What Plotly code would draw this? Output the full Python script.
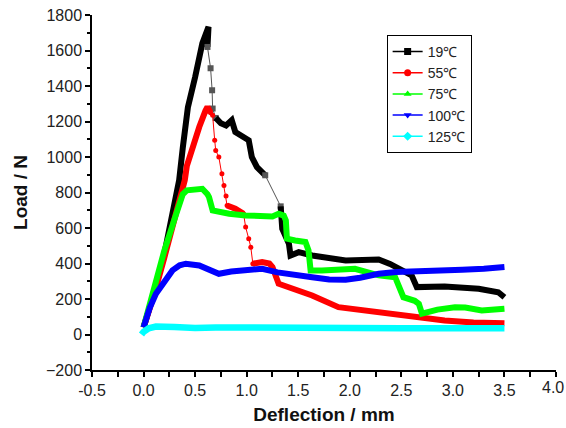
import plotly.graph_objects as go

# ---------------- data ----------------
series_names = ["19℃", "55℃", "75℃", "100℃", "125℃"]

# 19 C (black) - segments: thick / thin
b1_x = [0.0, 0.1, 0.2, 0.28, 0.345, 0.38, 0.40, 0.43, 0.50, 0.57, 0.63, 0.62]
b1_y = [40, 230, 450, 680, 868, 1050, 1180, 1280, 1450, 1640, 1733, 1620]
b2_x = [0.62, 0.65, 0.665, 0.67, 0.70]
b2_y = [1620, 1500, 1376, 1273, 1220]
b3_x = [0.70, 0.75, 0.80, 0.855, 0.89, 0.96, 1.02, 1.05, 1.10, 1.18]
b3_y = [1220, 1190, 1178, 1207, 1141, 1113, 1094, 1000, 943, 897]
b4_x = [1.18, 1.33]
b4_y = [897, 722]
b5_x = [1.33, 1.345, 1.41, 1.425, 1.505, 1.635, 1.96, 2.28, 2.39, 2.60, 2.65, 2.92, 3.25, 3.44, 3.50]
b5_y = [722, 596, 511, 445, 464, 445, 417, 423, 398, 333, 267, 271, 258, 238, 210]

# 55 C (red)
r1_x = [0.0, 0.1, 0.2, 0.3, 0.38, 0.40, 0.42, 0.475, 0.54, 0.60, 0.62, 0.65]
r1_y = [40, 220, 430, 640, 800, 870, 950, 1056, 1169, 1260, 1282, 1250]
r2_x = [0.65, 0.67, 0.69, 0.70, 0.73, 0.76, 0.78, 0.80, 0.81]
r2_y = [1250, 1235, 1094, 1037, 1000, 906, 840, 780, 727]
r3_x = [0.81, 0.89, 0.97]
r3_y = [727, 709, 680]
r4_x = [0.97, 0.99, 1.02, 1.04, 1.06]
r4_y = [680, 605, 540, 492, 399]
r5_x = [1.06, 1.15, 1.22, 1.25, 1.31, 1.635, 1.89, 2.28, 2.60, 2.92, 3.2, 3.50]
r5_y = [399, 408, 400, 380, 286, 220, 154, 126, 107, 79, 68, 64]

# 75 C (green)
g_x = [0.0, 0.1, 0.2, 0.3, 0.38, 0.42, 0.5, 0.57, 0.62, 0.635, 0.67, 0.75, 0.83, 0.99, 1.1,
       1.18, 1.25, 1.31, 1.36, 1.38, 1.39, 1.47, 1.57, 1.60, 1.62, 1.73, 2.05, 2.28, 2.44,
       2.52, 2.63, 2.67, 2.70, 2.85, 3.02, 3.12, 3.28, 3.50]
g_y = [40, 260, 470, 650, 790, 812, 815, 821, 790, 774, 699, 690, 680, 671, 665,
       661, 665, 680, 670, 643, 540, 530, 521, 474, 361, 361, 370, 333, 323,
       210, 190, 173, 117, 140, 154, 152, 135, 145]

# 100 C (blue)
bl_x = [0.0, 0.06, 0.12, 0.2, 0.28, 0.35, 0.41, 0.54, 0.65, 0.73, 0.85, 0.99, 1.15, 1.3, 1.5,
        1.635, 1.8, 1.96, 2.1, 2.28, 2.45, 2.60, 2.9, 3.09, 3.3, 3.50]
bl_y = [40, 150, 229, 300, 361, 390, 399, 389, 360, 342, 355, 361, 370, 350, 330,
        323, 310, 308, 320, 342, 352, 357, 360, 365, 370, 380]

# 125 C (cyan)
c_x = [-0.02, 0.0, 0.05, 0.12, 0.3, 0.5, 0.7, 1.0, 1.5, 2.0, 2.5, 3.0, 3.5]
c_y = [0, 15, 35, 45, 42, 36, 40, 38, 35, 33, 35, 35, 35]

x_ticks = [-0.5, 0.0, 0.5, 1.0, 1.5, 2.0, 2.5, 3.0, 3.5, 4.0]
y_ticks = [-200, 0, 200, 400, 600, 800, 1000, 1200, 1400, 1600, 1800]

colors = ["#000000", "#ff0000", "#00ff00", "#0000ff", "#00ffff"]
symbols = ["square", "circle", "triangle-up", "triangle-down", "diamond"]

fig = go.Figure()

def thick(x, y, color, w=6):
    fig.add_trace(go.Scatter(x=x, y=y, mode="lines", showlegend=False,
                             line=dict(color=color, width=w, shape="linear"),
                             hoverinfo="skip"))

def thin(x, y, color, msym, msize=5):
    fig.add_trace(go.Scatter(x=x, y=y, mode="lines+markers", showlegend=False,
                             line=dict(color=color, width=1),
                             marker=dict(color=color, symbol=msym, size=msize),
                             hoverinfo="skip"))

# black
thick(b1_x, b1_y, colors[0])
thin(b2_x, b2_y, "#555555", "square", 6)
thick(b3_x, b3_y, colors[0])
thin(b4_x, b4_y, "#555555", "square", 6)
thick(b5_x, b5_y, colors[0])
# red
thick(r1_x, r1_y, colors[1])
thin(r2_x, r2_y, colors[1], "circle", 5)
thick(r3_x, r3_y, colors[1])
thin(r4_x, r4_y, colors[1], "circle", 5)
thick(r5_x, r5_y, colors[1])
# green, blue, cyan
thick(g_x, g_y, colors[2])
thick(bl_x, bl_y, colors[3], 6)
thick(c_x, c_y, colors[4], 6.5)

# legend entries
for name, col, sym in zip(series_names, colors, symbols):
    fig.add_trace(go.Scatter(x=[None], y=[None], mode="lines+markers", name=name,
                             line=dict(color=col, width=1.5),
                             marker=dict(color=col, symbol=sym, size=7)))

axis_font = dict(family="Liberation Sans, Arial, sans-serif", size=16, color="#222222")

# the last x tick label sits on the figure edge in the reference
fig.add_annotation(x=x_ticks[-1], y=0, xref="x", yref="paper", yanchor="top",
                   xanchor="right", xshift=10,
                   yshift=-7, text=f"{x_ticks[-1]:.1f}", showarrow=False,
                   font=axis_font)

fig.update_layout(
    width=566, height=428,
    margin=dict(l=92, r=10, t=15, b=58),
    paper_bgcolor="white", plot_bgcolor="white",
    font=dict(family="Liberation Sans, Arial, sans-serif"),
    xaxis=dict(range=[-0.5, 4.0], tickvals=x_ticks[:-1],
               ticktext=[f"{v:.1f}" for v in x_ticks[:-1]],
               automargin=False,
               showgrid=False, zeroline=False, showline=True, linecolor="black",
               linewidth=1.5, ticks="outside", ticklen=5, tickwidth=1.5, tickcolor="black",
               tickfont=axis_font,
               minor=dict(tickvals=[-0.25, 0.25, 0.75, 1.25, 1.75, 2.25, 2.75, 3.25, 3.75, 4.0],
                          ticks="outside", ticklen=5, tickwidth=1.5, tickcolor="black"),
               title=dict(text="<b>Deflection / mm</b>", font=dict(size=19, color="#111111"),
                          standoff=10)),
    yaxis=dict(range=[-200, 1800], tickvals=y_ticks,
               automargin=False,
               showgrid=False, zeroline=False, showline=True, linecolor="black",
               linewidth=1.5, ticks="outside", ticklen=5, tickwidth=1.5, tickcolor="black",
               tickfont=axis_font,
               minor=dict(dtick=100, ticks="outside", ticklen=3, tickwidth=1.5, tickcolor="black"),
               title=dict(text="<b>Load / N</b>", font=dict(size=19, color="#111111"),
                          standoff=13)),
    legend=dict(x=0.635, y=0.944, xanchor="left", yanchor="top",
                bordercolor="black", borderwidth=1, bgcolor="white",
                font=dict(size=14, color="#222222"), itemwidth=30,
                tracegroupgap=0),
)

fig.write_html("out.html", config={"displayModeBar": False},
               post_script="document.body.style.margin='0';document.body.style.overflow='hidden';")
